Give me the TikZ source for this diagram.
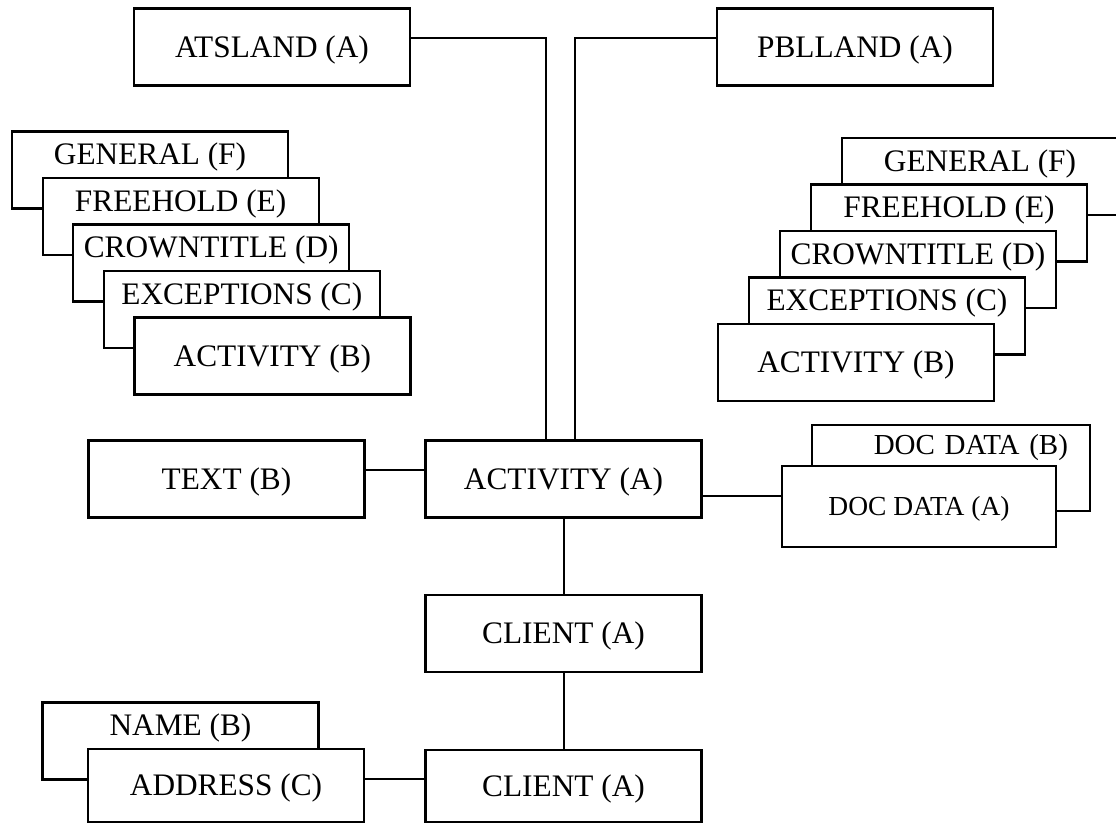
\documentclass[tikz,border=0pt]{standalone}
\usepackage{fontspec}
\setmainfont{Liberation Serif}
\usetikzlibrary{positioning}

\begin{document}
\begin{tikzpicture}[x=1pt,y=-1pt,on grid,
    box/.style={draw,line width=2.2pt,fill=white,minimum width=276pt,minimum height=77pt,
      inner sep=2pt,font=\fontsize{31.3}{36}\selectfont,text height=20.7pt,text depth=0pt},
    back/.style={box,text depth=31pt},
    link/.style={line width=2pt}]
  \clip (0,0) rectangle (1116,824);

  \node[box] (ats_a) at (272,47) {ATSLAND (A)};
  \node[box] (pbl_a) at (855,47) {PBLLAND (A)};

  % left stack, back to front
  \node[back] (l_f) at (150,170) {GENERAL (F)};
  \node[back] (l_e) [below right=46.5pt and 30.6pt of l_f] {FREEHOLD (E)};
  \node[back] (l_d) [below right=46.5pt and 30.6pt of l_e] {CROWNTITLE (D)};
  \node[back] (l_c) [below right=46.5pt and 30.6pt of l_d] {EXCEPTIONS (C)};
  \node[box] (l_b) [below right=46.5pt and 30.6pt of l_c] {ACTIVITY (B)};

  % right stack, back to front
  \node[back] (r_f) at (980,176.5) {GENERAL (F)};
  \node[back] (r_e) [below left=46.5pt and 31pt of r_f] {FREEHOLD (E)};
  \node[back] (r_d) [below left=46.5pt and 31pt of r_e] {CROWNTITLE (D)};
  \node[back] (r_c) [below left=46.5pt and 31pt of r_d] {EXCEPTIONS (C)};
  \node[box] (r_b) [below left=46.5pt and 31pt of r_c] {ACTIVITY (B)};

  \node[box] (act_a) at (563.5,479) {ACTIVITY (A)};
  \node[box] (txt_b) [left=337pt of act_a] {TEXT (B)};

  \node[box,minimum width=278pt,minimum height=86pt,font=\fontsize{29}{33}\selectfont,
    text height=19.2pt,text depth=46.5pt,text width=234pt,align=right,inner xsep=22pt]
    (doc_b) at (951,468) {DOC DATA (B)};
  \node[box,minimum width=274pt,minimum height=81pt,font=\fontsize{27.5}{32}\selectfont,
    text height=18.2pt] (doc_a) [below left=38.5pt and 32pt of doc_b] {DOC DATA (A)};

  \node[box] (cli_a) [below=154.5pt of act_a] {CLIENT (A)};
  \node[box,minimum height=72pt] (cli_b) [below=152.5pt of cli_a] {CLIENT (A)};

  \node[back] (nam_b) at (180.5,741) {NAME (B)};
  \node[box,minimum height=73pt] (adr_c) [below right=44.5pt and 45.5pt of nam_b] {ADDRESS (C)};

  \draw[link] ([yshift=9pt]ats_a.east) -| ([xshift=-17.5pt]act_a.north);
  \draw[link] ([yshift=9pt]pbl_a.west) -| ([xshift=11.5pt]act_a.north);
  \draw[link] ([yshift=9pt]txt_b.east) -- ([yshift=9pt]act_a.west);
  \draw[link] ([yshift=-17pt]act_a.east) -- ([yshift=-17pt]act_a.east -| doc_a.west);
  \draw[link] (act_a) -- (cli_a);
  \draw[link] (cli_a) -- (cli_b);
  \draw[link] ([yshift=7pt]adr_c.east) -- ([yshift=7pt]adr_c.east -| cli_b.west);
\end{tikzpicture}
\end{document}
